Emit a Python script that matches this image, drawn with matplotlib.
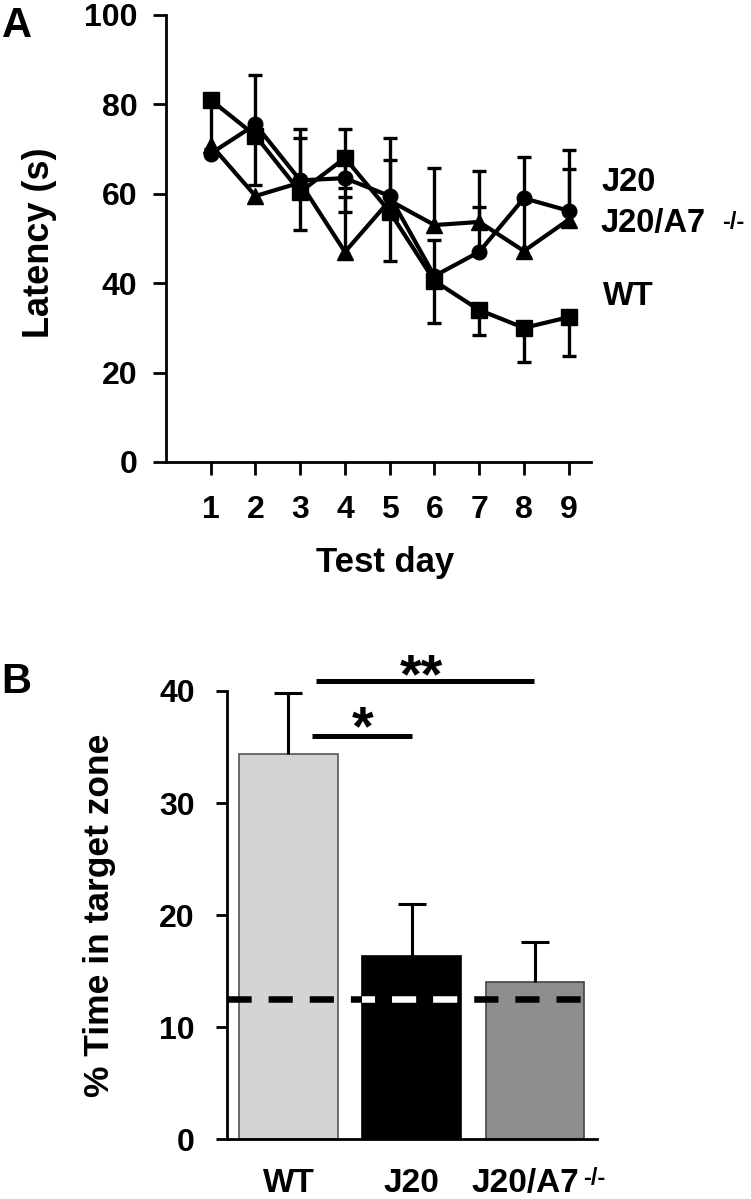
import numpy as np
import matplotlib
matplotlib.use("Agg")
import matplotlib.pyplot as plt
from matplotlib.transforms import blended_transform_factory, ScaledTranslation

plt.rcParams['font.family'] = ['Liberation Sans', 'DejaVu Sans']
plt.rcParams['font.weight'] = 'bold'

# panel A: latency per test day
days = np.arange(1, 10)
wt_lat = np.array([81.0, 73.0, 60.4, 68.0, 56.0, 40.5, 34.0, 30.0, 32.4])
j20_lat = np.array([69.0, 75.5, 63.0, 63.5, 59.5, 41.6, 47.0, 59.0, 56.2])
a7_lat = np.array([71.0, 59.5, 62.5, 47.0, 58.5, 53.0, 53.7, 47.2, 54.2])
# one-sided error bars as drawn in the figure
wt_err_lo = np.array([11.0, 11.0, 8.4, 6.7, 11.0, 9.3, 5.7, 7.6, 8.8])
j20_err_hi = np.array([0.0, 11.0, 11.6, 11.0, 12.9, 8.1, 10.0, 9.3, 13.5])
j20_err_lo = np.array([0.0, 0.0, 0.0, 7.5, 0.0, 0.0, 0.0, 0.0, 0.0])
a7_err_hi = np.array([0.0, 0.0, 10.0, 12.3, 9.1, 12.8, 11.3, 11.0, 11.4])

# panel B: % time in target zone
groups = ['WT', 'J20', 'J20/A7']
pct_time = np.array([34.4, 16.3, 14.05])
pct_err = np.array([5.4, 4.7, 3.55])
bar_colors = ['#d4d4d4', '#000000', '#8e8e8e']
chance = 12.5

fig = plt.figure(figsize=(7.51, 11.99), dpi=100)


def err_bars(ax, x, base, err, sign, lw=2.4, cap=10):
	m = err > 0
	tips = base[m] + sign * err[m]
	ax.vlines(x[m], base[m], tips, color='k', lw=lw, zorder=2)
	ax.plot(x[m], tips, ls='none', marker='_', ms=cap, mew=lw, color='k', zorder=2)


# ---- A ----
ax = fig.add_axes([0.221, 0.6147, 0.566, 0.3728])
err_bars(ax, days, wt_lat, wt_err_lo, -1)
err_bars(ax, days, j20_lat, j20_err_hi, 1)
err_bars(ax, days, j20_lat, j20_err_lo, -1)
err_bars(ax, days, a7_lat, a7_err_hi, 1)
ax.plot(days, wt_lat, color='k', lw=3, marker='s', ms=11.5, zorder=3)
ax.plot(days, j20_lat, color='k', lw=3, marker='o', ms=10.5, zorder=3)
ax.plot(days, a7_lat, color='k', lw=3, marker='^', ms=11.5, zorder=3)

ax.set_xlim(0, 9.5)
ax.set_ylim(0, 100)
ax.set_xticks(days)
ax.set_yticks([0, 20, 40, 60, 80, 100])
ax.tick_params(axis='x', direction='out', length=9.5, width=2, pad=14, labelsize=23)
ax.tick_params(axis='y', direction='out', length=9.5, width=2, pad=11, labelsize=23)
for s in ['top', 'right']:
	ax.spines[s].set_visible(False)
for s in ['left', 'bottom']:
	ax.spines[s].set_linewidth(2)
ax.set_xlabel('Test day', fontsize=25, fontweight='bold')
ax.xaxis.set_label_coords(0.515, -0.226)
ax.xaxis.label.set_va('center')
ax.set_ylabel('Latency (s)', fontsize=26, fontweight='bold')
ax.yaxis.set_label_coords(-0.297, 0.49)
ax.yaxis.label.set_va('center')

ax.text(9.74, 62.5, 'J20', fontsize=23.5, va='center', ha='left', clip_on=False)
t = ax.text(9.72, 53.3, 'J20/A7', fontsize=23.5, va='center', ha='left', clip_on=False)
ax.annotate('-/-', xy=(1, 1), xycoords=t, xytext=(12, -2), textcoords='offset points',
			fontsize=17, va='top', ha='left')
ax.text(9.76, 37.0, 'WT', fontsize=23.5, va='center', ha='left', clip_on=False)

fig.text(0.002, 1 - 6 / 1199, 'A', fontsize=30, va='top', ha='left')

# ---- B ----
bx = fig.add_axes([0.302, 0.05, 0.4927, 0.3737])
pos = np.arange(len(groups))
bars = bx.bar(pos, pct_time, width=0.8, color=bar_colors,
			  edgecolor=['#555555', '#000000', '#444444'], lw=1.2, zorder=1)
err_bars(bx, pos.astype(float), pct_time, pct_err, 1, lw=2.2, cap=19.5)

dash = (0, (3.7, 2.6))
bx.plot([-0.5, 2.4], [chance, chance], color='k', lw=4.7, ls=dash, zorder=3)
wl, = bx.plot([-0.5, 2.4], [chance, chance], color='white', lw=4.7, ls=dash, zorder=4)
wl.set_clip_path(bars[1])

# significance brackets
bx.plot([0.22, 1.99], [40.9, 40.9], color='k', lw=3.6, clip_on=False, solid_capstyle='butt')
bx.plot([0.19, 1.0], [36.0, 36.0], color='k', lw=3.6, clip_on=False, solid_capstyle='butt')
bx.text(0.6, 35.2, '*', fontsize=40, ha='center', va='baseline')
bx.text(1.08, 39.9, '**', fontsize=40, ha='center', va='baseline', clip_on=False)

bx.set_xlim(-0.5, 2.5)
bx.set_ylim(0, 40)
bx.set_xticks(pos, labels=groups)
bx.set_yticks([0, 10, 20, 30, 40])
bx.tick_params(axis='x', length=0, pad=21, labelsize=24)
bx.tick_params(axis='y', direction='out', length=8, width=2, pad=15, labelsize=23)
for s in ['top', 'right']:
	bx.spines[s].set_visible(False)
for s in ['left', 'bottom']:
	bx.spines[s].set_linewidth(2)
bx.set_ylabel('% Time in target zone', fontsize=25.5, fontweight='bold')
bx.yaxis.set_label_coords(-0.343, 0.5)
bx.yaxis.label.set_va('center')
# knockout label sits a bit left of its bar to leave room for the superscript
lab = bx.get_xticklabels()[2]
lab.set_transform(lab.get_transform() + ScaledTranslation(-0.1, 0, fig.dpi_scale_trans))
trans = blended_transform_factory(bx.transData, bx.transAxes)
bx.text(2.39, -0.062, '-/-', transform=trans, fontsize=17, ha='left', va='top')

fig.text(0.002, 1 - 662 / 1199, 'B', fontsize=30, va='top', ha='left')

fig.savefig('out.png', dpi=100)
